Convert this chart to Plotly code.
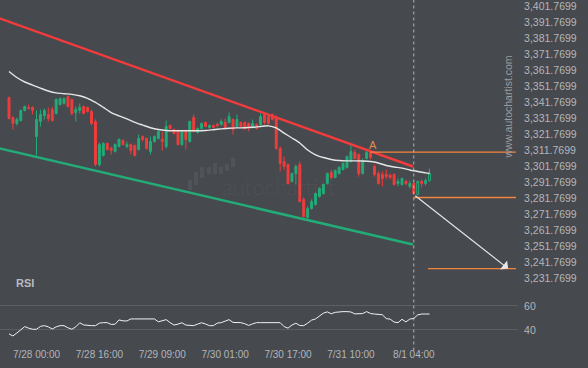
import plotly.graph_objects as go

# ---------------- data ----------------
bar_index = list(range(108))

opens = [3344.7, 3332.2, 3328.5, 3330.3, 3336.6, 3338.5, 3338.5, 3320.3, 3329.7, 3333.5,
         3334.1, 3337.2, 3334.7, 3340.3, 3341.0, 3345.3, 3343.5, 3335.3, 3336.6, 3339.1,
         3338.5, 3336.0, 3329.7, 3302.8, 3308.5, 3316.0, 3312.8, 3311.0, 3314.1, 3317.8,
         3314.1, 3315.3, 3314.7, 3312.2, 3320.3, 3319.1, 3311.0, 3317.2, 3319.1, 3318.5,
         3314.1, 3327.2, 3324.7, 3324.1, 3315.3, 3324.1, 3317.2, 3332.2, 3322.8, 3325.3,
         3329.1, 3326.0, 3327.2, 3327.8, 3327.8, 3329.1, 3329.1, 3331.0, 3326.6, 3329.1,
         3329.1, 3328.5, 3326.0, 3327.8, 3327.8, 3334.1, 3332.8, 3334.1, 3332.2, 3312.8,
         3304.7, 3302.8, 3292.2, 3297.2, 3302.8, 3281.0, 3269.7, 3275.3, 3277.8, 3282.8,
         3284.7, 3291.0, 3297.8, 3294.7, 3297.2, 3299.7, 3301.0, 3304.7, 3310.3, 3309.1,
         3297.2, 3306.6, 3310.3, 3301.6, 3297.2, 3296.6, 3296.6, 3296.0, 3296.6, 3291.0,
         3290.3, 3292.2, 3289.1, 3291.0, 3284.1, 3292.2, 3291.0, 3292.8]

highs = [3345.3, 3332.8, 3332.2, 3337.2, 3339.7, 3340.3, 3339.1, 3336.6, 3337.2, 3337.8,
         3338.5, 3339.1, 3344.1, 3344.7, 3344.7, 3346.0, 3344.1, 3339.1, 3341.0, 3339.7,
         3339.1, 3337.2, 3331.0, 3316.6, 3316.6, 3316.6, 3314.1, 3316.0, 3319.1, 3318.5,
         3317.2, 3316.0, 3315.3, 3321.6, 3321.0, 3319.7, 3320.3, 3321.0, 3324.1, 3323.5,
         3330.3, 3327.8, 3325.3, 3324.7, 3324.1, 3324.7, 3330.3, 3334.1, 3326.0, 3329.1,
         3329.7, 3327.8, 3327.8, 3329.1, 3331.0, 3331.6, 3335.3, 3331.6, 3334.1, 3329.7,
         3329.7, 3329.1, 3331.0, 3328.5, 3334.7, 3334.7, 3333.5, 3334.7, 3333.5, 3314.1,
         3307.8, 3303.5, 3297.8, 3302.8, 3304.7, 3282.2, 3276.6, 3281.0, 3285.3, 3288.5,
         3291.0, 3297.8, 3299.7, 3299.7, 3301.6, 3304.1, 3308.5, 3315.3, 3312.2, 3309.7,
         3306.6, 3312.2, 3311.0, 3302.8, 3298.5, 3298.5, 3299.7, 3297.2, 3297.2, 3294.1,
         3294.7, 3293.5, 3292.8, 3292.2, 3292.8, 3293.5, 3294.1, 3300.3]

lows = [3331.0, 3324.7, 3327.2, 3329.7, 3336.0, 3337.2, 3334.1, 3308.5, 3326.6, 3331.0,
        3329.7, 3329.7, 3334.1, 3339.7, 3340.3, 3338.5, 3333.5, 3329.7, 3334.7, 3334.1,
        3335.3, 3327.2, 3301.6, 3301.6, 3307.8, 3311.6, 3309.1, 3310.3, 3313.5, 3314.7,
        3312.8, 3309.1, 3307.8, 3311.6, 3317.2, 3312.2, 3309.1, 3316.6, 3318.5, 3311.6,
        3312.8, 3324.7, 3321.6, 3314.7, 3314.7, 3312.2, 3316.6, 3322.8, 3322.2, 3324.7,
        3326.0, 3325.3, 3325.3, 3326.0, 3327.2, 3325.3, 3328.5, 3321.6, 3326.0, 3326.0,
        3324.7, 3323.5, 3325.3, 3324.7, 3327.2, 3327.8, 3327.8, 3330.3, 3312.2, 3298.5,
        3299.7, 3290.3, 3291.6, 3290.3, 3279.1, 3268.5, 3269.1, 3274.7, 3277.2, 3282.2,
        3284.1, 3290.3, 3293.5, 3294.1, 3296.6, 3299.1, 3300.3, 3304.1, 3306.0, 3295.3,
        3296.6, 3306.0, 3306.0, 3295.3, 3290.3, 3289.1, 3293.5, 3293.5, 3289.7, 3289.1,
        3289.7, 3289.7, 3287.8, 3284.1, 3283.5, 3288.5, 3289.7, 3292.2]

closes = [3331.6, 3328.5, 3331.0, 3336.6, 3339.1, 3337.8, 3336.6, 3331.0, 3334.1, 3336.6,
          3331.6, 3330.3, 3343.5, 3344.1, 3344.1, 3339.1, 3334.7, 3337.2, 3338.5, 3334.7,
          3336.0, 3328.5, 3302.8, 3315.3, 3316.0, 3312.2, 3311.6, 3315.3, 3318.5, 3315.3,
          3315.3, 3311.6, 3308.5, 3319.1, 3318.5, 3312.8, 3317.2, 3320.3, 3323.5, 3317.2,
          3326.6, 3325.3, 3322.2, 3315.3, 3323.5, 3318.5, 3329.7, 3323.5, 3325.3, 3328.5,
          3326.6, 3327.2, 3326.0, 3327.2, 3329.7, 3326.0, 3332.8, 3324.7, 3331.0, 3326.6,
          3325.3, 3326.0, 3328.5, 3325.3, 3332.8, 3329.1, 3328.5, 3331.0, 3312.8, 3303.5,
          3301.6, 3291.0, 3297.2, 3301.6, 3279.7, 3270.3, 3275.3, 3279.7, 3284.7, 3287.8,
          3290.3, 3297.2, 3294.7, 3299.1, 3301.0, 3303.5, 3307.8, 3311.0, 3306.6, 3297.2,
          3305.3, 3310.3, 3307.2, 3296.6, 3291.0, 3294.1, 3295.3, 3294.7, 3290.3, 3292.2,
          3294.1, 3291.0, 3291.0, 3284.7, 3292.2, 3291.0, 3292.8, 3297.2]

hollow_bars = [104, 107]

ma_index = list(range(0, 107, 2)) + [107]
ma_values = [3361.0, 3357.2, 3354.4, 3352.5, 3350.6, 3348.8, 3347.6, 3347.1, 3346.7, 3345.8,
             3344.2, 3341.6, 3338.5, 3335.3, 3333.2, 3331.3, 3329.2, 3327.5, 3325.8, 3324.7,
             3324.1, 3323.9, 3323.9, 3323.9, 3323.9, 3324.1, 3324.6, 3325.1, 3325.5, 3325.7,
             3325.8, 3326.1, 3326.6, 3327.0, 3325.7, 3322.5, 3319.4, 3316.3, 3311.9, 3308.9,
             3307.2, 3306.0, 3305.3, 3305.1, 3305.1, 3305.0, 3304.7, 3303.8, 3302.2, 3301.3,
             3300.6, 3299.4, 3298.5, 3297.6, 3297.4]

rsi_values = [36.7, 35.0, 37.5, 40.5, 42.8, 41.5, 40.6, 40.6, 43.0, 43.6,
              42.6, 40.8, 42.6, 43.6, 43.6, 41.8, 40.6, 42.6, 46.0, 44.2,
              43.6, 43.6, 43.6, 45.7, 46.1, 46.1, 44.6, 44.8, 48.4, 47.6,
              47.5, 49.2, 49.2, 49.2, 49.2, 49.2, 49.2, 49.2, 46.8, 47.6,
              48.6, 46.1, 44.1, 44.9, 46.0, 44.1, 43.6, 43.6, 44.9, 46.0,
              45.0, 43.6, 43.6, 45.7, 46.1, 47.2, 48.6, 46.3, 46.1, 46.1,
              45.2, 43.8, 45.1, 46.1, 46.1, 46.1, 46.1, 46.1, 46.1, 46.1,
              42.8, 41.5, 44.1, 45.6, 43.7, 43.6, 45.7, 48.2, 49.2, 51.6,
              54.0, 55.1, 53.5, 54.7, 55.3, 55.3, 55.3, 55.0, 53.4, 53.3,
              53.7, 55.3, 53.7, 53.3, 53.3, 52.7, 49.5, 49.0, 46.6, 46.1,
              48.9, 46.7, 49.1, 49.6, 52.6, 53.3, 53.3, 53.3]

# channel lines (bar index, price)
resistance_x = [-3.0, 102.8]
resistance_y = [3394.7, 3301.6]
support_x = [-3.0, 102.8]
support_y = [3313.2, 3252.8]

# key levels
level_a = 3310.6          # resistance touch "A"
level_a_start = 91.9
level_now = 3282.2        # level at signal bar
level_now_start = 103
target_level = 3237.8     # forecast target
target_start = 106.6
signal_bar = 103
forecast_from = (103, 3284.1)
forecast_to = (127, 3237.8)
label_a_pos = (92.6, 3315.3)

tick_bars = [7, 23, 39, 55, 71, 87, 103]
tick_labels = ["7/28 00:00", "7/28 16:00", "7/29 09:00", "7/30 01:00",
               "7/30 17:00", "7/31 10:00", "8/1 04:00"]
price_ticks = [3231.7699 + 10 * k for k in range(18)]
price_tick_text = [f"{v:,.4f}" for v in price_ticks]

# ---------------- style ----------------
BG = "#46494e"
TXT = "#b3b6bb"
RED = "#f03c3c"
GREEN = "#23ab78"
ORANGE = "#f5843c"
FONT = "Liberation Sans, Arial, sans-serif"
PW, PH = 518.0, 347.0


def px(xp):
    return xp / PW


def py(yp):
    return 1 - yp / PH


fig = go.Figure()

normal = [i for i in bar_index if i not in hollow_bars]
fig.add_trace(go.Candlestick(
    x=normal,
    open=[opens[i] for i in normal], high=[highs[i] for i in normal],
    low=[lows[i] for i in normal], close=[closes[i] for i in normal],
    increasing=dict(line=dict(color=GREEN, width=1), fillcolor=GREEN),
    decreasing=dict(line=dict(color=RED, width=1), fillcolor=RED),
    whiskerwidth=0, xaxis="x", yaxis="y", hoverinfo="skip", showlegend=False))
fig.add_trace(go.Candlestick(
    x=hollow_bars,
    open=[opens[i] for i in hollow_bars], high=[highs[i] for i in hollow_bars],
    low=[lows[i] for i in hollow_bars], close=[closes[i] for i in hollow_bars],
    increasing=dict(line=dict(color=GREEN, width=1), fillcolor=BG),
    decreasing=dict(line=dict(color=RED, width=1), fillcolor=BG),
    whiskerwidth=0, xaxis="x", yaxis="y", hoverinfo="skip", showlegend=False))

# channel
fig.add_trace(go.Scatter(x=resistance_x, y=resistance_y, mode="lines",
                         line=dict(color=RED, width=2.5), hoverinfo="skip", showlegend=False))
fig.add_trace(go.Scatter(x=support_x, y=support_y, mode="lines",
                         line=dict(color=GREEN, width=2.5), hoverinfo="skip", showlegend=False))

# moving average
fig.add_trace(go.Scatter(x=ma_index, y=ma_values, mode="lines",
                         line=dict(color="#e6e6e6", width=1.4, shape="spline", smoothing=0.6),
                         hoverinfo="skip", showlegend=False))

# levels
right_end = 129.0
for lv, st in [(level_a, level_a_start), (level_now, level_now_start), (target_level, target_start)]:
    fig.add_trace(go.Scatter(x=[st, right_end], y=[lv, lv], mode="lines",
                             line=dict(color=ORANGE, width=1.3), hoverinfo="skip", showlegend=False))

# RSI
fig.add_trace(go.Scatter(x=bar_index, y=rsi_values, mode="lines",
                         line=dict(color="#f2f2f2", width=1), xaxis="x", yaxis="y2",
                         hoverinfo="skip", showlegend=False))

shapes = [dict(type="line", xref="x", yref="paper", x0=signal_bar, x1=signal_bar,
               y0=-0.01, y1=1, line=dict(color="rgba(215,215,215,0.75)", width=1, dash="3px,3px"))]

# watermark logo bars
logo_bars = [(190, 180, 190), (196, 172, 185), (202, 167, 178), (209, 167, 174),
             (215, 163, 174), (221, 167, 174), (227, 164, 171), (233, 158, 167)]
for cx, t, b in logo_bars:
    shapes.append(dict(type="rect", xref="paper", yref="paper", x0=px(cx - 2), x1=px(cx + 2),
                       y0=py(b), y1=py(t), line=dict(width=0), fillcolor="rgba(255,255,255,0.055)",
                       layer="below"))

annotations = [
    dict(text="autochartist", xref="paper", yref="paper", x=px(279), y=py(186),
         showarrow=False, font=dict(family="Lato, sans-serif", size=22, color="rgba(255,255,255,0.06)",
                                    weight=300)),
    dict(text="www.autochartist.com", xref="paper", yref="paper", x=px(515), y=py(54),
         textangle=-90, showarrow=False, font=dict(family=FONT, size=10.5, color="#9a9da2")),
    dict(text="RSI", xref="paper", yref="paper", x=px(14), y=py(291), xanchor="left",
         showarrow=False, font=dict(family=FONT, size=11, color="#b8bbc0", weight="bold")),
    dict(text="A", x=label_a_pos[0], y=label_a_pos[1], xref="x", yref="y", showarrow=False,
         font=dict(family=FONT, size=11, color="#e8894a")),
    dict(text="", x=forecast_to[0], y=forecast_to[1], ax=forecast_from[0], ay=forecast_from[1],
         xref="x", yref="y", axref="x", ayref="y", showarrow=True, arrowhead=1,
         arrowsize=1.6, arrowwidth=1.2, arrowcolor="#e6e6e6"),
]

fig.update_layout(
    width=588, height=368,
    margin=dict(l=0, r=70, t=0, b=21, autoexpand=False),
    paper_bgcolor=BG, plot_bgcolor=BG,
    font=dict(family=FONT, color=TXT),
    showlegend=False,
    shapes=shapes, annotations=annotations,
    xaxis=dict(range=[-2.29, 129.52], anchor="y2", showgrid=False, zeroline=False,
               showline=False, tickvals=tick_bars, ticktext=tick_labels, ticks="",
               automargin=False,
               tickfont=dict(size=10, color=TXT), rangeslider=dict(visible=False)),
    yaxis=dict(domain=[0.1873, 1], range=[3229.4, 3405.65], side="right", anchor="x",
               showgrid=False, zeroline=False, tickvals=price_ticks, ticktext=price_tick_text,
               automargin=False, ticklabeloverflow="allow",
               ticks="outside", ticklen=3, tickcolor=BG, tickfont=dict(size=10.5, color=TXT)),
    yaxis2=dict(domain=[0, 0.1787], range=[25.8, 77.5], side="right", anchor="x",
                showgrid=True, gridcolor="#5b5e63", gridwidth=1, zeroline=False,
                automargin=False,
                tickvals=[40, 60], ticks="outside", ticklen=3, tickcolor=BG,
                tickfont=dict(size=10.5, color=TXT)),
)

fig.write_html("out.html",
               config={"displayModeBar": False, "staticPlot": True},
               post_script="document.body.style.margin='0';document.body.style.overflow='hidden';"
                           "document.body.style.background='" + BG + "';")
